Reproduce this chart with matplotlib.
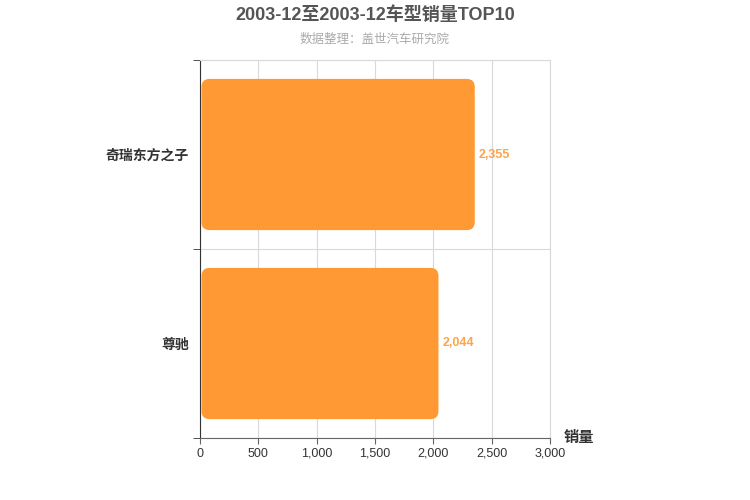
import matplotlib
matplotlib.use("Agg")
import matplotlib.pyplot as plt
from matplotlib.patches import FancyBboxPatch

plt.rcParams["font.family"] = ["Liberation Sans", "Noto Sans CJK SC", "DejaVu Sans"]

categories = ["尊驰", "奇瑞东方之子"]
sales = [2044, 2355]
x_ticks = [0, 500, 1000, 1500, 2000, 2500, 3000]

bar_color = "#FF9933"
fig = plt.figure(figsize=(7.5, 5), dpi=100)
ax = fig.add_axes([200 / 750, 62 / 500, 350 / 750, 378 / 500])

ax.set_xlim(0, 3000)
ax.set_ylim(-0.5, len(categories) - 0.5)

# px -> data unit conversion for rounded corners
x_per_px = 3000 / 350
y_per_px = len(categories) / 378
radius_px = 8
bar_h = 0.8
for i, v in enumerate(sales):
    patch = FancyBboxPatch(
        (x_per_px * 1.5, i - bar_h / 2), v - x_per_px * 1.5, bar_h,
        boxstyle=f"round,pad=0,rounding_size={radius_px * x_per_px}",
        mutation_aspect=y_per_px / x_per_px,
        facecolor=bar_color, edgecolor="none", zorder=3)
    ax.add_patch(patch)
    ax.text(v + 35, i, f"{v:,}", va="center", ha="left", fontsize=9,
            fontweight="bold", color=bar_color, alpha=0.9, zorder=4)

ax.set_xticks(x_ticks)
ax.set_xticklabels([f"{t:,}" for t in x_ticks], fontsize=9, color="#333333")
ax.set_yticks(range(len(categories)))
ax.set_yticklabels(categories, fontsize=10, fontweight="bold", color="#333333")
ax.tick_params(axis="y", which="major", length=0, pad=8)
ax.set_yticks([k - 0.5 for k in range(len(categories) + 1)], minor=True)
ax.tick_params(axis="y", which="minor", length=5, color="#333333")
ax.tick_params(axis="x", length=4, color="#666666", pad=3)

ax.grid(axis="x", color="#d9d9d9", linewidth=0.8, zorder=0)
ax.grid(axis="y", which="minor", color="#d9d9d9", linewidth=0.8, zorder=0)
for side in ["top", "right"]:
    ax.spines[side].set_color("#d9d9d9")
    ax.spines[side].set_linewidth(0.8)
ax.spines["left"].set_color("#333333")
ax.spines["bottom"].set_color("#666666")
ax.set_axisbelow(True)

ax.text(1.04, 0.0, "销量", transform=ax.transAxes, fontsize=11,
        fontweight="bold", color="#333333", ha="left", va="center")

fig.text(0.5, 0.97, "2003-12至2003-12车型销量TOP10", ha="center", va="center",
         fontsize=13, fontweight="bold", color="#555555")
fig.text(0.5, 0.92, "数据整理：盖世汽车研究院", ha="center", va="center",
         fontsize=9, color="#aaaaaa")

fig.savefig("out.png", dpi=100)
